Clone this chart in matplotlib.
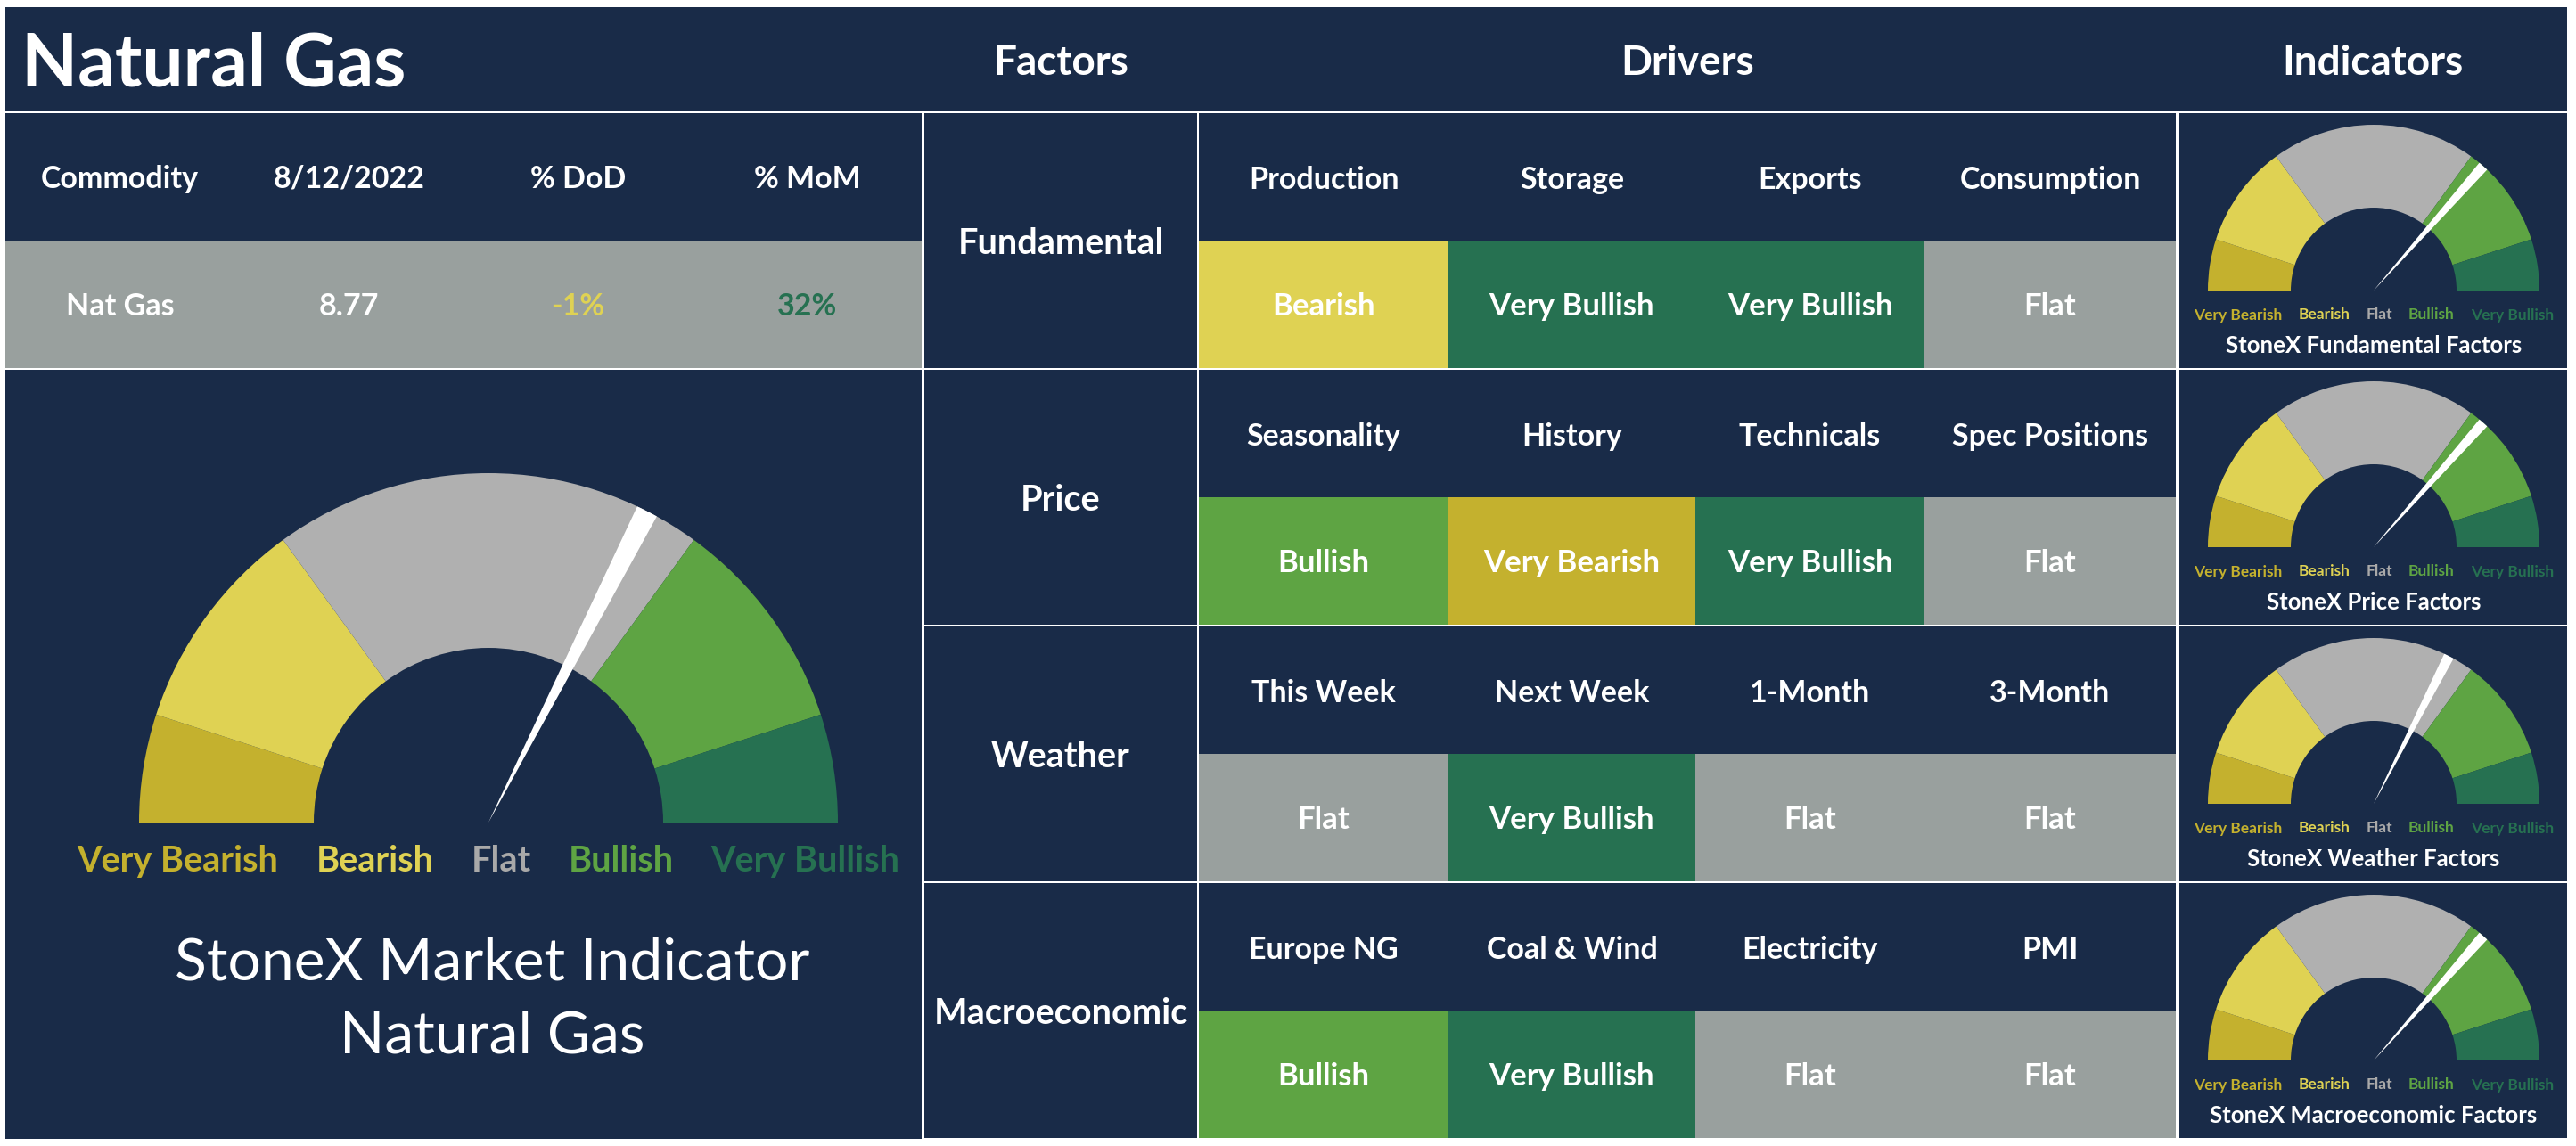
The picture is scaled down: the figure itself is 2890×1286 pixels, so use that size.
import matplotlib
matplotlib.use('Agg')
import matplotlib.pyplot as plt
from matplotlib.patches import Rectangle, Wedge

W, H = 2890, 1286

# ---- data ----
commodity_headers = ['Commodity', '8/12/2022', '% DoD', '% MoM']
commodity_values = ['Nat Gas', '8.77', '-1%', '32%']
value_status = [None, None, 'Bearish', 'Very Bullish']

factors = ['Fundamental', 'Price', 'Weather', 'Macroeconomic']
drivers = [
    ['Production', 'Storage', 'Exports', 'Consumption'],
    ['Seasonality', 'History', 'Technicals', 'Spec Positions'],
    ['This Week', 'Next Week', '1-Month', '3-Month'],
    ['Europe NG', 'Coal & Wind', 'Electricity', 'PMI'],
]
driver_status = [
    ['Bearish', 'Very Bullish', 'Very Bullish', 'Flat'],
    ['Bullish', 'Very Bearish', 'Very Bullish', 'Flat'],
    ['Flat', 'Very Bullish', 'Flat', 'Flat'],
    ['Bullish', 'Very Bullish', 'Flat', 'Flat'],
]

status_names = ['Very Bearish', 'Bearish', 'Flat', 'Bullish', 'Very Bullish']
band_widths = [10, 20, 40, 20, 10]          # share of the half circle
overall_score = 65                          # 0 = very bearish, 100 = very bullish
factor_scores = [73, 73, 65, 73]
indicator_titles = ['StoneX Fundamental Factors', 'StoneX Price Factors',
                    'StoneX Weather Factors', 'StoneX Macroeconomic Factors']

# ---- style ----
NAVY = '#192b48'
CELL = {'Very Bearish': '#c4b12e', 'Bearish': '#dfd253', 'Flat': '#99a09e',
        'Bullish': '#5ea443', 'Very Bullish': '#267151'}
BAND = dict(CELL, Flat='#b0b0b0')
LABEL = dict(CELL, Flat='#a9a9a9')
FONT = ['Lato', 'DejaVu Sans']

plt.rcParams['font.family'] = FONT

fig = plt.figure(figsize=(W / 100, H / 100), dpi=100)
fig.patch.set_facecolor('white')
ax = fig.add_axes([0, 0, 1, 1])
ax.set_xlim(0, W)
ax.set_ylim(H, 0)
ax.axis('off')


def box(x0, y0, x1, y1, color=NAVY):
    ax.add_patch(Rectangle((x0, y0), x1 - x0, y1 - y0, facecolor=color,
                           edgecolor='none'))


def txt(x, y, s, size, color='white', weight='bold', ha='center'):
    return ax.text(x, y, s, fontsize=size, color=color, fontweight=weight,
                   ha=ha, va='center_baseline')


def gauge(cx, cy, R, score, label_y, fs, gap):
    r = R * 0.5
    start = 180.0
    for name, w in zip(status_names, band_widths):
        end = start - 180.0 * w / 100
        # y axis is inverted, so screen angle a -> data angle -a
        ax.add_patch(Wedge((cx, cy), R, -start, -end, width=R - r,
                           facecolor=BAND[name], edgecolor='none'))
        start = end
    a = 180.0 * (1 - score / 100)
    ax.add_patch(Wedge((cx, cy), R, -(a + 1.8), -(a - 1.8),
                       facecolor='white', edgecolor='none'))
    # legend labels laid out in a centred row
    labels = [txt(0, label_y, s, fs, color=LABEL[s], ha='left') for s in status_names]
    rend = fig.canvas.get_renderer()
    widths = [t.get_window_extent(rend).width for t in labels]
    total = sum(widths) + gap * (len(widths) - 1)
    x = cx - total / 2
    for t, w in zip(labels, widths):
        t.set_x(x)
        x += w + gap


# header band
box(6, 8, 2880, 125)
txt(24, 66, 'Natural Gas', 59, ha='left')
txt(1190, 67, 'Factors', 33)
txt(1893, 67, 'Drivers', 33)
txt(2662, 67, 'Indicators', 33)

# commodity table
box(6, 127, 1034, 270)
box(6, 270, 1034, 413, CELL['Flat'])
col_w = (1034 - 6) / len(commodity_headers)
for i, (hd, val, st) in enumerate(zip(commodity_headers, commodity_values, value_status)):
    xc = 6 + col_w * (i + 0.5)
    txt(xc, 198, hd, 24.5)
    txt(xc, 341, val, 24.5, color=CELL[st] if st else 'white')

# overall gauge panel
box(6, 415, 1034, 1278)
gauge(548, 923, 392, overall_score, 963, 28.5, 42)
txt(552, 1075, 'StoneX Market Indicator', 47.5, weight='normal')
txt(552, 1158, 'Natural Gas', 47.5, weight='normal')

# factors / drivers / indicators
row_tops = [127, 415, 703, 991]
row_h, name_h = 286, 143
col_edges = [1345, 1625, 1902, 2159, 2441]
for k, top in enumerate(row_tops):
    bot = top + row_h
    box(1037, top, 1343, bot)
    txt(1190, top + row_h / 2, factors[k], 28.5)
    box(1345, top, 2441, top + name_h)
    for j in range(4):
        x0, x1 = col_edges[j], col_edges[j + 1]
        xc = (x0 + x1) / 2
        txt(xc, top + name_h / 2, drivers[k][j], 24.5)
        box(x0, top + name_h, x1, bot, CELL[driver_status[k][j]])
        txt(xc, top + name_h + (row_h - name_h) / 2, driver_status[k][j], 25)
    box(2445, top, 2880, bot)
    gauge(2663, top + 199, 186, factor_scores[k], top + 225, 12.5, 18)
    txt(2663, top + 259, indicator_titles[k], 18.5)

fig.savefig('out.png', dpi=100, facecolor='white')
